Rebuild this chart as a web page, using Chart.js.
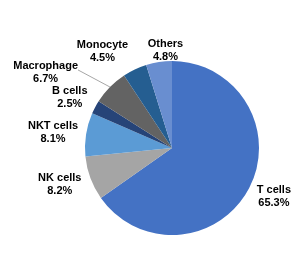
<!DOCTYPE html>
<html lang="en">
<head>
  <meta charset="UTF-8" />
  <title>Cell composition</title>
  <script src="https://cdn.jsdelivr.net/npm/chart.js"></script>
  <style>
    html, body { margin: 0; padding: 0; background: #fff; }
    #wrap { width: 299px; height: 258px; }
  </style>
</head>
<body>
<div id="wrap"><canvas id="pie" width="299" height="258"></canvas></div>
<script>
// data, clockwise from 12 o'clock
const categories = ['T cells', 'NK cells', 'NKT cells', 'B cells', 'Macrophage', 'Monocyte', 'Others'];
const percents = [65.3, 8.2, 8.1, 2.5, 6.7, 4.5, 4.8];
const pctLabels = ['65.3%', '8.2%', '8.1%', '2.5%', '6.7%', '4.5%', '4.8%'];

const colors = ['#4472C4', '#A5A5A5', '#5B9BD5', '#264478', '#636363', '#255E91', '#698ED0'];
// label placement: angle nudge (deg) off the slice middle, distance from centre (px)
const labelNudge = [-1.8, 2.4, -1.5, -1.7, -13.8, -10.4, 4.8];
const labelDist = [113, 118, 120, 114, 147, 119, 98];
const leader = [false, false, false, false, true, false, false];

const outsideLabels = {
  id: 'outsideLabels',
  afterDatasetsDraw(chart) {
    const ctx = chart.ctx;
    const arcs = chart.getDatasetMeta(0).data;
    ctx.save();
    ctx.font = 'bold 11px "Liberation Sans", Arial, sans-serif';
    ctx.fillStyle = '#000';
    ctx.textAlign = 'center';
    ctx.textBaseline = 'middle';
    arcs.forEach((arc, i) => {
      const mid = (arc.startAngle + arc.endAngle) / 2;
      const a = mid + labelNudge[i] * Math.PI / 180;
      const x = arc.x + Math.cos(a) * labelDist[i];
      const y = arc.y + Math.sin(a) * labelDist[i];
      ctx.fillText(categories[i], x, y - 6.5);
      ctx.fillText(pctLabels[i], x, y + 6.5);
      if (leader[i]) {
        const w = ctx.measureText(categories[i]).width;
        ctx.strokeStyle = '#A6A6A6';
        ctx.lineWidth = 1;
        ctx.beginPath();
        ctx.moveTo(arc.x + Math.cos(mid) * arc.outerRadius, arc.y + Math.sin(mid) * arc.outerRadius);
        ctx.lineTo(x + w / 2, y - 3);
        ctx.stroke();
      }
    });
    ctx.restore();
  }
};

new Chart(document.getElementById('pie'), {
  type: 'pie',
  data: {
    labels: categories,
    datasets: [{ data: percents, backgroundColor: colors, borderWidth: 0 }]
  },
  options: {
    responsive: false,
    animation: false,
    layout: { padding: { left: 60, right: 15, top: 61, bottom: 23 } },
    plugins: { legend: { display: false }, tooltip: { enabled: false } }
  },
  plugins: [outsideLabels]
});
</script>
</body>
</html>
